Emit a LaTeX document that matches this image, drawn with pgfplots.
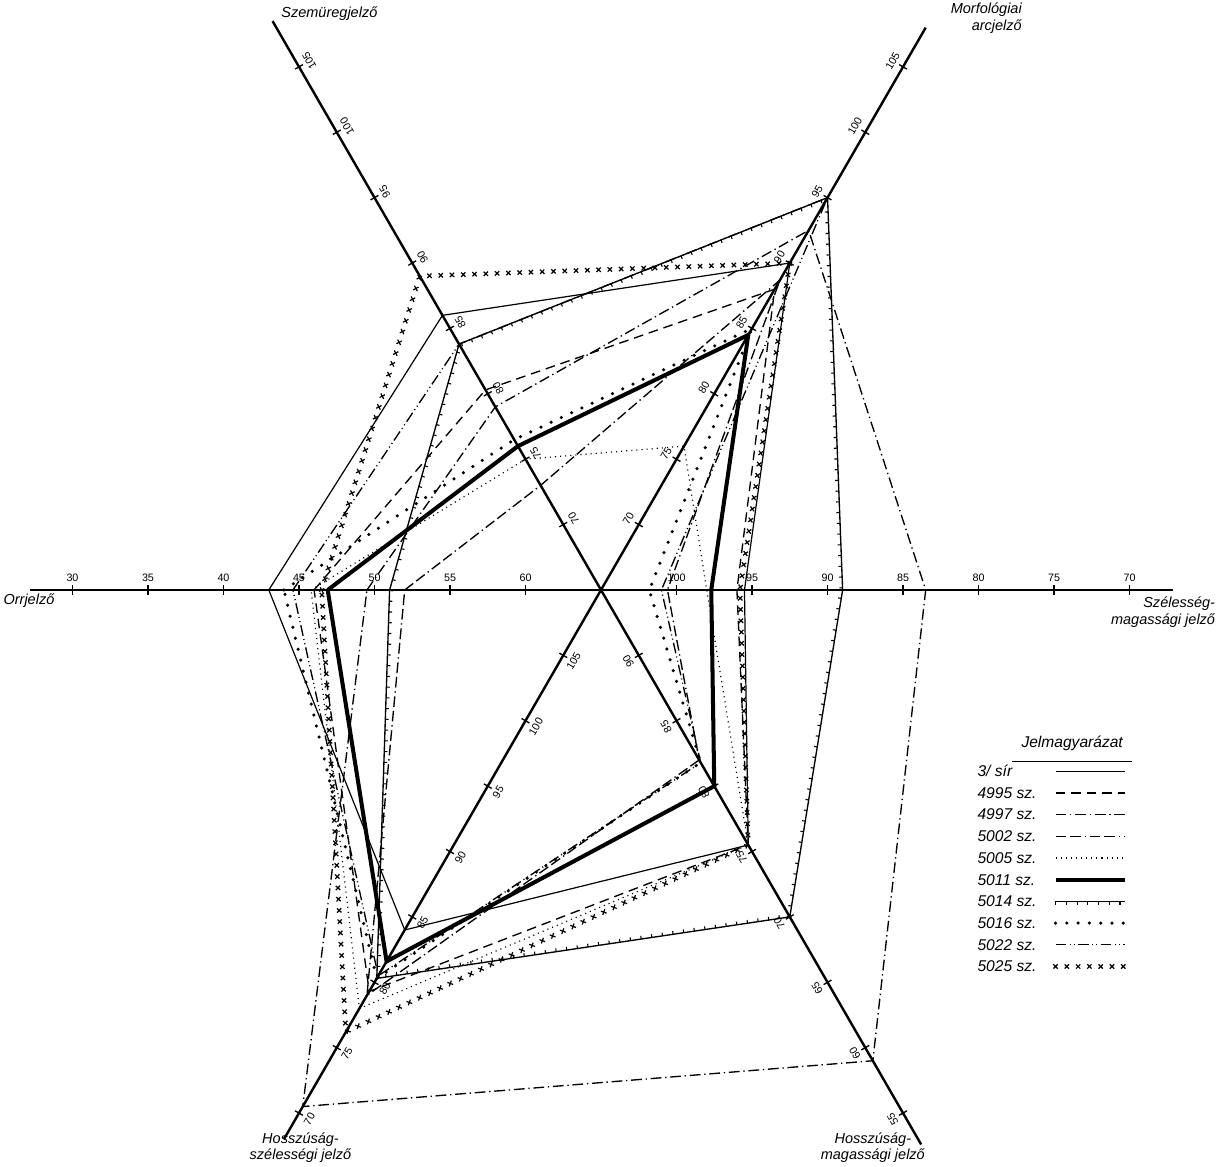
\documentclass[border=0pt]{standalone}
\usepackage{pgfplots}
\pgfplotsset{compat=1.18}
\usepackage{pgfplotstable}
\usepackage{fontspec}
\setmainfont{Liberation Sans}
\usetikzlibrary{decorations.markings, calc}

% one row per ray of the star, the last row closes the polygon
% ang: direction of the ray, c: value at the centre, d: +1 if the values grow outwards
\pgfplotstableread{
ang c   d   s3sir s4995 s4997 s5002 s5005 s5011 s5014 s5016 s5022 s5025
180 65  -1  43.0  46.0  49.5  52.0  45.8  46.9  51.0  44.0  44.6  46.5
120 65   1  86.0  80.3  79.0  73.0  75.0  76.0  83.8  76.5  83.8  89.0
60  65   1  90.0  88.0  92.5  88.7  76.0  84.5  95.0  85.0  95.0  90.0
0   105 -1  95.5  96.0  83.5  100.6 98.0  97.7  89.0  101.8 101.0 95.8
300 95  -1  75.5  75.5  59.0  82.0  75.5  80.0  70.0  81.8  81.8  75.5
240 110 -1  84.0  79.3  70.5  79.0  78.0  81.6  80.3  80.3  80.5  76.2
180 65  -1  43.0  46.0  49.5  52.0  45.8  46.9  51.0  44.0  44.6  46.5
}\data

\tikzset{
  s3sir/.style={black, line width=0.45pt},
  s4995/.style={black, line width=0.5pt, dash pattern=on 3.6pt off 2.2pt},
  s4997/.style={black, line width=0.5pt, dash pattern=on 4pt off 1.4pt on 0.5pt off 1.4pt},
  s5002/.style={black, line width=0.5pt, dash pattern=on 4pt off 1.4pt on 4pt off 1.4pt on 0.5pt off 1.4pt},
  s5005/.style={black, line width=0.45pt, dash pattern=on 0.4pt off 1.5pt},
  s5011/.style={black, line width=1.5pt},
  s5014/.style={black, line width=0.5pt, postaction={decorate},
    decoration={markings, mark=between positions 0 and 1 step 4pt with {\draw[solid, line width=0.4pt] (0pt,0pt) -- (0pt,-1.2pt);}}},
  s5016/.style={black, line width=1.3pt, line cap=round, dash pattern=on 0pt off 4.2pt},
  s5022/.style={black, line width=0.5pt, dash pattern=on 4pt off 1.2pt on 0.4pt off 1.2pt on 0.4pt off 1.2pt},
  s5025/.style={draw=none, postaction={decorate},
    decoration={markings, mark=between positions 0 and 1 step 4.2pt with {\draw[black, solid, line width=0.45pt] (-0.8pt,-0.8pt) -- (0.8pt,0.8pt) (-0.8pt,0.8pt) -- (0.8pt,-0.8pt);}}},
}

\newcommand{\series}[1]{\addplot[#1] table[
  x expr={\thisrow{d}*(\thisrow{#1}-\thisrow{c})*cos(\thisrow{ang})},
  y expr={\thisrow{d}*(\thisrow{#1}-\thisrow{c})*sin(\thisrow{ang})}]{\data};}

% ticks of one ray: angle, centre value, direction, values, label offset, label options
\newcommand{\rayticks}[6]{%
  \begin{scope}[rotate=#1]
    \foreach \v in {#4} {
      \pgfmathsetmacro\r{#3*(\v-#2)}
      \draw[line width=0.5pt] (\r,-0.3) -- (\r,0.3);
      \node[font=\fontsize{4}{4}\selectfont, inner sep=0pt, #6] at (\r,#5) {\v};
    }
  \end{scope}}

\begin{document}
\begin{tikzpicture}
\begin{axis}[
  x=0.19755cm, y=0.19755cm,
  xmin=-39.80, xmax=41.19, ymin=-38.15, ymax=39.07,
  hide axis, clip=false,
]
\series{s3sir}
\series{s4995}
\series{s4997}
\series{s5002}
\series{s5005}
\series{s5011}
\series{s5014}
\series{s5016}
\series{s5022}
\series{s5025}
\coordinate (O) at (axis cs:0,0);
\end{axis}

\begin{scope}[shift={(O)}, x=0.19755cm, y=0.19755cm]
  \draw[line width=0.9pt] (180:37.8) -- (0:37.9);
  \draw[line width=0.9pt] (120:43.5) -- (300:42.4);
  \draw[line width=0.9pt] (60:43) -- (240:42);
  \rayticks{180}{65}{-1}{30,35,...,60}{-0.5}{anchor=south}
  \rayticks{0}{105}{-1}{100,95,...,70}{0.5}{anchor=south}
  \rayticks{120}{65}{1}{70,75,...,105}{-0.5}{rotate=120, anchor=north}
  \rayticks{60}{65}{1}{70,75,...,105}{0.5}{rotate=60, anchor=south}
  \rayticks{300}{95}{-1}{90,85,...,55}{-0.5}{rotate=120, anchor=south}
  \rayticks{240}{110}{-1}{105,100,...,70}{0.5}{rotate=60, anchor=north}

  \begin{scope}[font=\fontsize{5.4}{6.2}\selectfont\itshape, inner sep=0pt]
    \node[anchor=south west] at (-21.2,37.7) {Szemüregjelző};
    \node[align=right, anchor=north east] at (27.9,38.9) {Morfológiai\\arcjelző};
    \node[anchor=north west] at (-39.6,-0.25) {Orrjelző};
    \node[align=right, anchor=north east] at (40.7,-0.45) {Szélesség-\\magassági jelző};
    \node[align=center, anchor=north] at (-19.9,-35.9) {Hosszúság-\\szélességi jelző};
    \node[align=center, anchor=north] at (18.0,-35.9) {Hosszúság-\\magassági jelző};
  \end{scope}

  % legend
  \begin{scope}[font=\fontsize{5.8}{6}\selectfont\itshape]
    \node[anchor=base] (T) at (31.2,-10.4) {Jelmagyarázat};
    \draw[line width=0.4pt] ($(T.south west)+(0,-0.1)$) -- ($(T.south east)+(0,-0.1)$);
    \foreach \n/\s [count=\i from 0] in {{3/ sír}/s3sir, {4995 sz.}/s4995, {4997 sz.}/s4997, {5002 sz.}/s5002,
        {5005 sz.}/s5005, {5011 sz.}/s5011, {5014 sz.}/s5014, {5016 sz.}/s5016, {5022 sz.}/s5022, {5025 sz.}/s5025} {
      \pgfmathsetmacro\yy{-12.0-1.437*\i}
      \node[anchor=west, inner sep=0pt] at (24.9,\yy) {\n};
      \draw[\s] (30.1,\yy) -- (34.7,\yy);
    }
  \end{scope}

  \pgfresetboundingbox
  \path (-39.80,-38.15) rectangle (41.19,39.07);
\end{scope}
\end{tikzpicture}
\end{document}
